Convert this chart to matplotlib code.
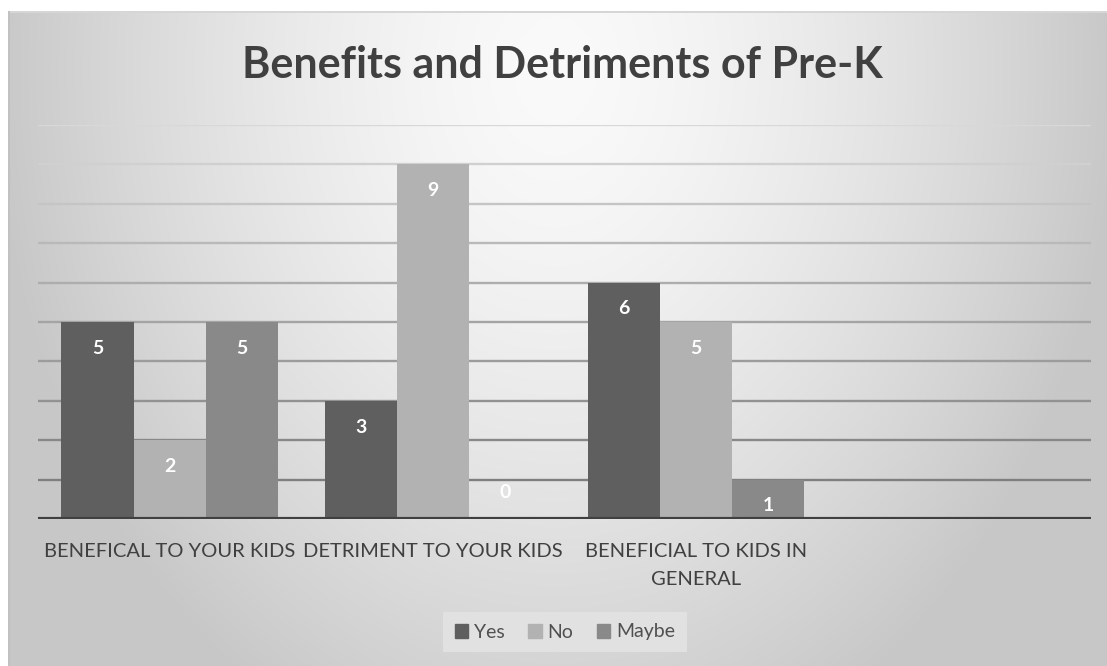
import textwrap

import numpy as np
import matplotlib
matplotlib.use("Agg")
import matplotlib.pyplot as plt
from matplotlib.patches import Patch

# survey answers per question
categories = ["BENEFICAL TO YOUR KIDS", "DETRIMENT TO YOUR KIDS",
              "BENEFICIAL TO KIDS IN GENERAL"]
series_names = ["Yes", "No", "Maybe"]
yes = [5, 3, 6]
no = [2, 9, 5]
maybe = [5, 0, 1]
gridline_levels = [1, 2, 3, 4, 5, 6, 7, 8, 9, 10]

title = "Benefits and Detriments of Pre-K"

bar_colors = ["#5f5f5f", "#b2b2b2", "#898989"]
# gridlines fade from dark at the bottom to light at the top
grid_colors = ["#7f7f7f", "#888888", "#929292", "#9c9c9c", "#a4a4a4",
               "#adadad", "#b9b9b9", "#c5c5c5", "#d0d0d0", "#d8d8d8"]
text_color = "#404040"

plt.rcParams["font.family"] = ["Lato", "DejaVu Sans"]

W, H = 1107, 666
fig = plt.figure(figsize=(W / 100, H / 100), dpi=100)

# soft radial background, brightest just behind the title
yy, xx = np.mgrid[0:H, 0:W]
dist = np.hypot(xx - 555.0, (yy - 70.0) / 1.3)
shade = np.clip(250 - 0.0038 * dist ** 1.5, 199, 250) / 255.0
bg = np.dstack([shade] * 3)
bg[:11, :] = 1.0
bg[:, :8] = 1.0
bg[11:13, 8:] = 0.84
bg[11:, 8:10] = 0.76
bg_ax = fig.add_axes([0, 0, 1, 1], zorder=0)
bg_ax.imshow(bg, aspect="auto", interpolation="bilinear")
bg_ax.axis("off")

ax = fig.add_axes([38 / W, 147 / H, 1053 / W, 394 / H], zorder=1)
ax.patch.set_alpha(0)

x = np.arange(len(categories))
width = 0.274
values = [yes, no, maybe]
offsets = [-width, 0, width]

for level, gc in zip(gridline_levels, grid_colors):
    ax.axhline(level, color=gc, lw=1.7, zorder=1)

for name, vals, off, col in zip(series_names, values, offsets, bar_colors):
    ax.bar(x + off, vals, width, color=col, zorder=2, label=name)
    for xi, v in zip(x, vals):
        dy = -19 if v > 0 else 19
        ax.annotate(str(v), (xi + off, v), xytext=(0, dy),
                    textcoords="offset points", ha="center", va="center",
                    color="white", fontweight="bold", fontsize=14, zorder=4)

ax.axhline(0, color="#404040", lw=3, zorder=3)

ax.set_xlim(-0.5, 3.5)
ax.set_ylim(0, 10)
ax.set_yticks([])
ax.set_xticks(x)
ax.set_xticklabels([textwrap.fill(c, 22) for c in categories],
                   fontsize=14.5, color=text_color, linespacing=1.8)
ax.tick_params(axis="x", length=0, pad=17)
for side in ax.spines:
    ax.spines[side].set_visible(False)

fig.text(562 / W, 1 - 78 / H, title, ha="center", va="baseline",
         fontsize=31, fontweight="bold", color=text_color)

handles = [Patch(color=c) for c in bar_colors]
leg = fig.legend(handles, series_names, loc="center",
                 bbox_to_anchor=(565 / W, 1 - 632 / H), ncol=3,
                 frameon=True, fancybox=False, facecolor="#e1e1e1",
                 edgecolor="none", framealpha=1, fontsize=14,
                 handlelength=0.7, handleheight=0.7, handletextpad=0.3,
                 columnspacing=1.2, borderpad=0.6)
for t in leg.get_texts():
    t.set_color("#505050")

fig.savefig("out.png", dpi=100)
